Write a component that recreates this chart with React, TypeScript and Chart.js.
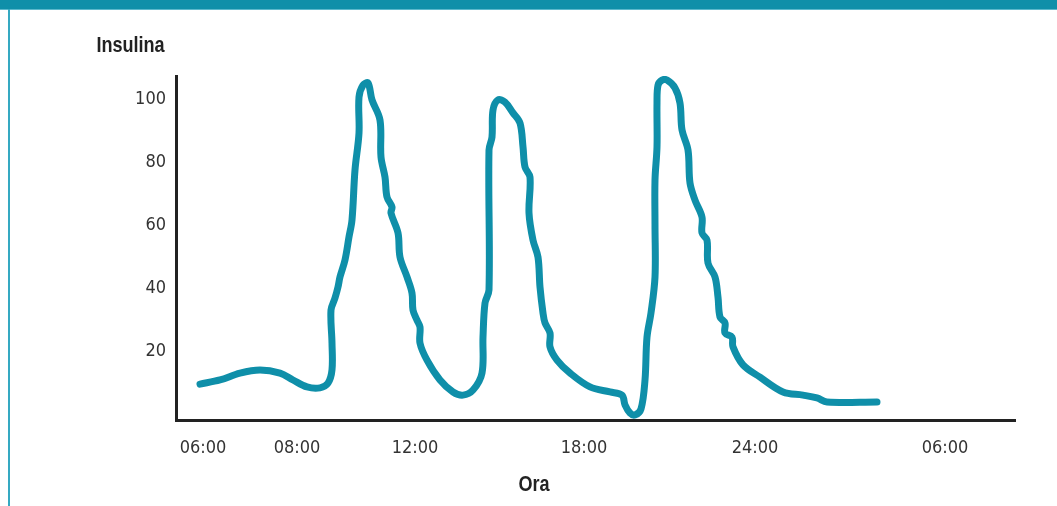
import React, { useEffect, useRef } from "react";
import { Chart, registerables } from "chart.js";

Chart.register(...registerables);

// x values are in axis units along the drawn time axis (non-uniform clock spacing)
const xTickValues = [27, 121, 239, 408, 579, 769];
const xTickLabels = ["06:00", "08:00", "12:00", "18:00", "24:00", "06:00"];
const yTickValues = [20, 40, 60, 80, 100];

const insulinX = [
  24, 44, 64, 84, 104, 117, 131, 144, 152, 156, 156, 155, 159, 162, 164, 169, 173, 176, 179, 183,
  183, 187, 192, 196, 204, 205, 209, 211, 216, 215, 222, 224, 231, 236, 237, 241, 244, 244, 251, 264,
  277, 287, 297, 306, 307, 309, 313, 313, 316, 317, 322, 329, 337, 344, 347, 349, 354, 353, 357, 362,
  364, 367, 369, 374, 374, 381, 394, 414, 434, 446, 449, 454, 459, 465, 469, 471, 475, 479, 479, 479,
  481, 481, 482, 486, 491, 499, 504, 506, 512, 514, 519, 526, 526, 531, 532, 539, 542, 544, 549, 549,
  556, 557, 567, 584, 607, 627, 641, 651, 701,
];
const insulinY = [
  9.5, 10.8, 13.0, 14.0, 13.0, 10.8, 8.6, 8.3, 9.8, 14.0, 22.5, 33.0, 36.8, 40.3, 43.5, 48.9, 56.2, 61.6, 77.5, 89.2,
  100.6, 104.4, 105.1, 99.7, 93.3, 81.6, 75.2, 68.9, 65.7, 63.8, 57.5, 49.8, 43.5, 38.4, 33.0, 29.8, 27.6, 22.5, 17.1, 10.8,
  7.0, 6.0, 7.6, 13.0, 24.4, 35.2, 39.4, 83.8, 87.9, 96.5, 99.7, 99.0, 95.6, 92.4, 84.8, 78.4, 75.2, 63.8, 55.2, 49.8,
  40.3, 32.1, 28.9, 25.7, 21.3, 17.1, 13.0, 8.6, 7.0, 6.0, 2.9, 0.3, -0.3, 1.6, 10.8, 24.4, 32.1, 43.5, 60.0, 74.3,
  84.8, 98.7, 104.4, 106.0, 106.0, 103.5, 98.7, 90.2, 83.8, 73.3, 67.9, 62.5, 57.5, 55.2, 47.9, 43.5, 37.1, 30.8, 28.9, 25.7,
  24.4, 21.3, 15.6, 11.7, 7.0, 6.0, 5.1, 3.8, 3.8,
];

const TEAL = "#0f8fa9";
const FONT = "'DejaVu Sans Condensed', 'Liberation Sans Narrow', 'Liberation Sans', sans-serif";
const TITLE_FONT = "'Liberation Sans', sans-serif";

export default function App() {
  const ref = useRef<HTMLCanvasElement | null>(null);

  useEffect(() => {
    if (!ref.current) return;
    const labelsPlugin = {
      id: "axisTitles",
      afterDraw(chart: any) {
        const ctx = chart.ctx;
        const drawCondensed = (text: string, cx: number, cy: number) => {
          ctx.save();
          ctx.translate(cx, cy);
          ctx.scale(0.82, 1);
          ctx.fillText(text, 0, 0);
          ctx.restore();
        };
        ctx.save();
        ctx.fillStyle = "#222";
        ctx.font = `bold 22px ${TITLE_FONT}`;
        ctx.textAlign = "center";
        ctx.textBaseline = "middle";
        drawCondensed("Insulina", 130.5, 46);
        drawCondensed("Ora", 534, 485);
        ctx.restore();
      },
    };
    const chart = new Chart(ref.current, {
      type: "line",
      data: {
        datasets: [
          {
            data: insulinX.map((x, i) => ({ x, y: insulinY[i] })),
            borderColor: TEAL,
            borderWidth: 7,
            borderCapStyle: "round",
            borderJoinStyle: "round",
            pointRadius: 0,
            tension: 0.35,
            fill: false,
          },
        ],
      },
      options: {
        animation: false,
        responsive: false,
        devicePixelRatio: 1,
        layout: { padding: { top: 76, right: 42, left: 0, bottom: 0 } },
        plugins: { legend: { display: false }, tooltip: { enabled: false }, title: { display: false } },
        scales: {
          x: {
            type: "linear",
            min: 0,
            max: 839,
            afterFit: (s: any) => {
              s.height = 86;
            },
            afterBuildTicks: (s: any) => {
              s.ticks = xTickValues.map((v) => ({ value: v }));
            },
            grid: { display: false, drawTicks: false },
            border: { display: true, color: "#222", width: 3 },
            ticks: {
              padding: 18,
              color: "#333",
              font: { family: FONT, size: 18 },
              maxRotation: 0,
              autoSkip: false,
              callback: (v: any) => {
                const i = xTickValues.indexOf(Number(v));
                return i >= 0 ? xTickLabels[i] : "";
              },
            },
          },
          y: {
            type: "linear",
            min: -1.9,
            max: 107.3,
            afterFit: (s: any) => {
              s.width = 176;
            },
            afterBuildTicks: (s: any) => {
              s.ticks = yTickValues.map((v) => ({ value: v }));
            },
            grid: { display: false, drawTicks: false },
            border: { display: true, color: "#222", width: 3 },
            ticks: {
              padding: 10,
              color: "#333",
              font: { family: FONT, size: 18 },
              autoSkip: false,
            },
          },
        },
      },
      plugins: [labelsPlugin],
    } as any);
    return () => chart.destroy();
  }, []);

  return (
    <div style={{ position: "fixed", left: 0, top: 0, width: 1057, height: 506, background: "#fff", overflow: "hidden" }}>
      <canvas ref={ref} width={1057} height={506} style={{ position: "absolute", left: 0, top: 0 }} />
      <div style={{ position: "absolute", left: 0, top: 0, width: 1057, height: 9, background: TEAL }} />
      <div style={{ position: "absolute", left: 0, top: 9, width: 1057, height: 1, background: "#5bb8cc" }} />
      <div style={{ position: "absolute", left: 8, top: 9, width: 2, height: 497, background: "#35a9c2" }} />
    </div>
  );
}
